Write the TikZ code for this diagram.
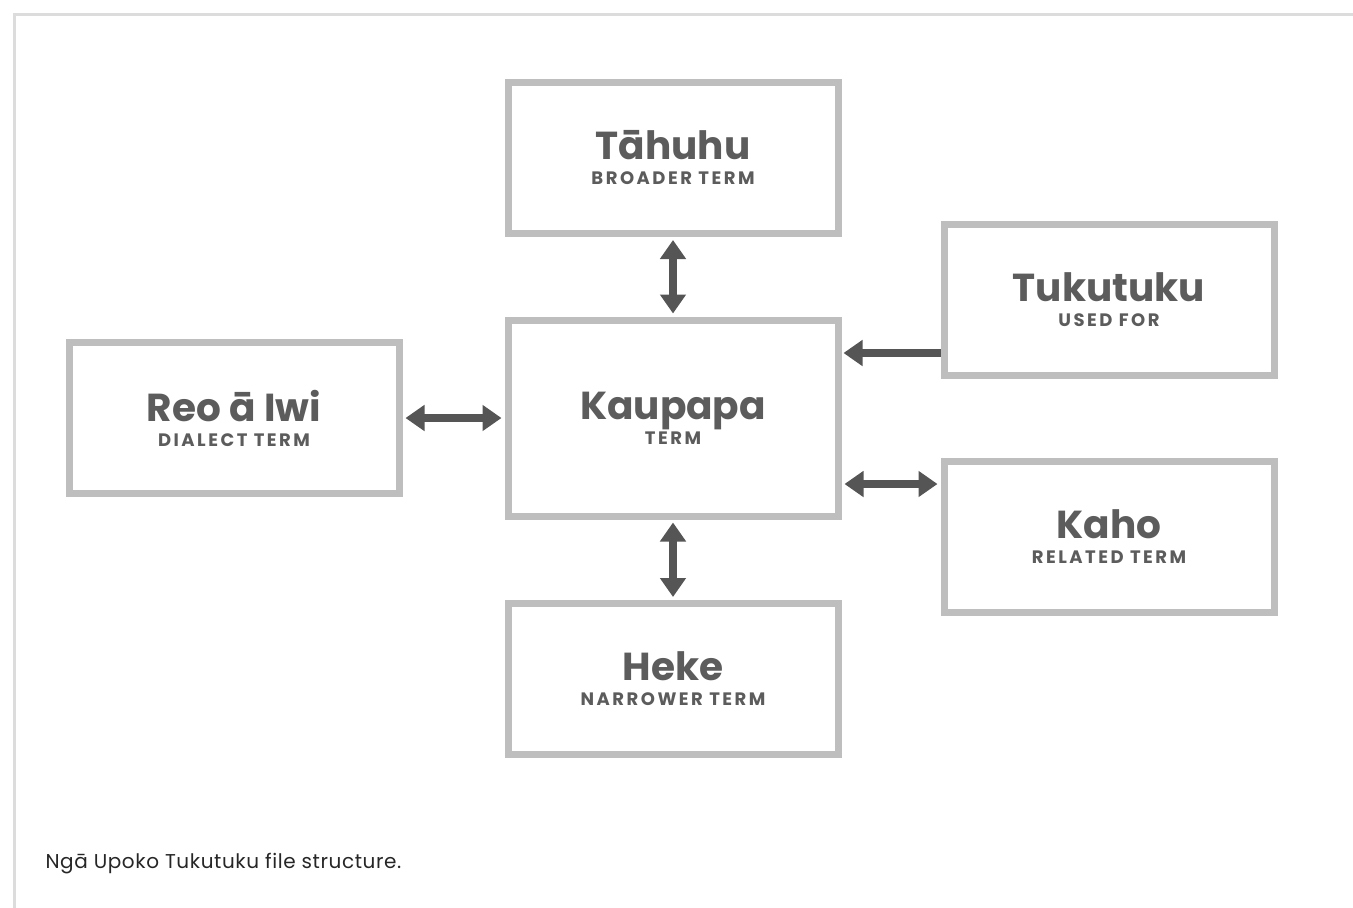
\documentclass[tikz,border=0pt]{standalone}
\usepackage{fontspec}
\setmainfont{Poppins}
\newfontfamily\subfont{Poppins}[LetterSpace=14]
\newfontfamily\notefont{Poppins}[LetterSpace=3]
\usepackage{tikz}
\usetikzlibrary{arrows.meta, positioning, calc}
\definecolor{FrameGray}{HTML}{DCDCDC}
\definecolor{BoxGray}{HTML}{BEBEBE}
\definecolor{InkGray}{HTML}{5C5C5C}
\definecolor{ArrowGray}{HTML}{555555}
\tikzset{
  termbox/.style={draw=BoxGray, line width=7pt, fill=white, minimum width=330pt,
    minimum height=151pt, align=center, text=InkGray,
    font=\fontsize{39}{25}\selectfont\bfseries, inner sep=0pt},
  linkboth/.style={{Triangle[length=19pt,width=25pt]}-{Triangle[length=19pt,width=25pt]},
    ArrowGray, line width=8pt, shorten <=3pt, shorten >=3pt},
  linkone/.style={-{Triangle[length=19pt,width=25pt]}, ArrowGray, line width=8pt,
    shorten >=2pt}
}
\newcommand{\termsub}[1]{{\subfont\bfseries\fontsize{18}{18}\selectfont #1}}
\begin{document}
\begin{tikzpicture}[x=1pt, y=-1pt]
  \useasboundingbox (0,0) rectangle (1353,908);
  % page frame
  \draw[FrameGray, line width=3pt] (14,908) -- (14,14) -- (1353,14);
  % terms
  \node[termbox] (tahuhu) at (673,158) {T\=ahuhu\\\termsub{BROADER TERM}};
  \node[termbox, minimum height=196pt] (kaupapa) at (673,418) {Kaupapa\\\termsub{TERM}};
  \node[termbox] (reo) at (234,418) {Reo \=a Iwi\\\termsub{DIALECT TERM}};
  \node[termbox] (tukutuku) at (1109,300) {Tukutuku\\\termsub{USED FOR}};
  \node[termbox] (kaho) at (1109,537) {Kaho\\\termsub{RELATED TERM}};
  \node[termbox] (heke) at (673,679) {Heke\\\termsub{NARROWER TERM}};
  % links
  \draw[linkboth] (tahuhu) -- (kaupapa);
  \draw[linkboth] (kaupapa) -- (heke);
  \draw[linkboth] (reo) -- (kaupapa);
  \draw[linkone] (tukutuku.west |- 0,353) -- (kaupapa.east |- 0,353);
  \draw[linkboth] (kaupapa.east |- 0,484) -- (kaho.west |- 0,484);
  % caption
  \node[anchor=west, text=black!85, font=\notefont\fontsize{20}{20}\selectfont] (caption) at (42,864)
    {Ng\=a Upoko Tukutuku file structure.};
\end{tikzpicture}
\end{document}
